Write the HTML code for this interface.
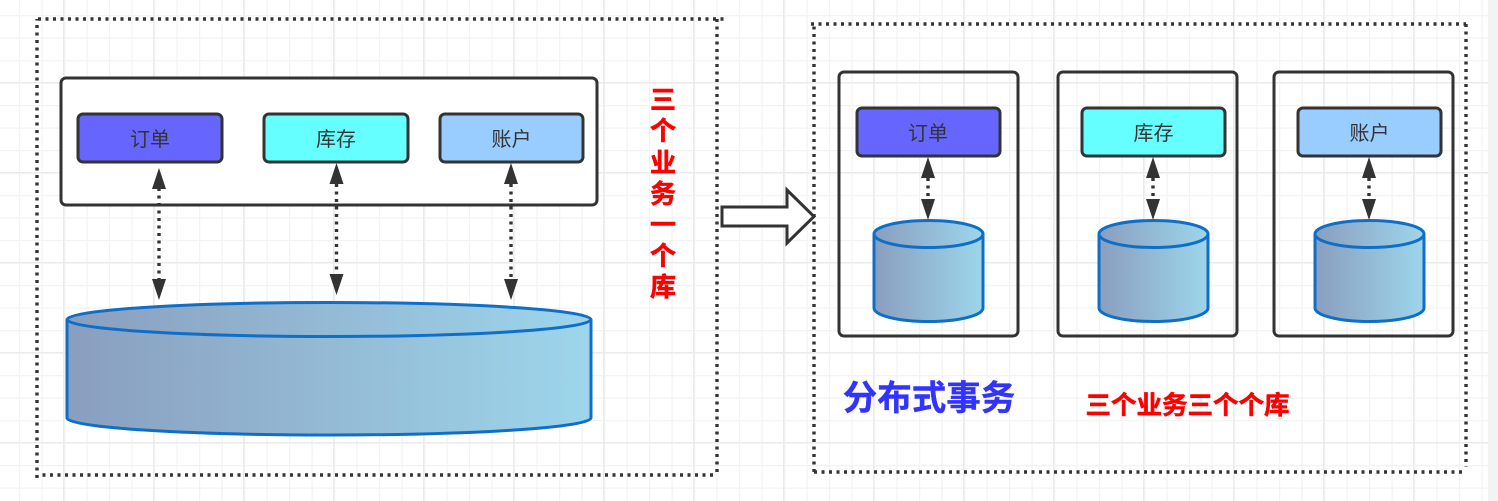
<!DOCTYPE html>
<html><head><meta charset="utf-8">
<style>
html,body{margin:0;padding:0;background:#fff;width:1498px;height:501px;overflow:hidden}
svg{display:block}
text{font-family:"Liberation Sans","Noto Sans CJK SC",sans-serif}
</style></head><body>
<svg width="1498" height="501" viewBox="0 0 1498 501" xmlns="http://www.w3.org/2000/svg">
<defs>
<linearGradient id="g" x1="0" y1="0" x2="1" y2="0"><stop offset="0" stop-color="#8a9ebf"/><stop offset="1" stop-color="#9dd6ec"/></linearGradient>
<pattern id="minor" x="19" y="15" width="22.5" height="22.5" patternUnits="userSpaceOnUse"><path d="M0.5 0V22.5M0 0.5H22.5" stroke="#f3f3f3" stroke-width="1.5" fill="none"/></pattern>
<pattern id="major" x="63" y="82" width="90" height="90" patternUnits="userSpaceOnUse"><path d="M0.5 0V90M0 0.5H90" stroke="#ebebeb" stroke-width="1.5" fill="none"/></pattern>
</defs>
<rect width="1498" height="501" fill="#fff"/>
<rect width="1488" height="501" fill="url(#minor)"/>
<rect width="1488" height="501" fill="url(#major)"/>
<rect x="1488" width="10" height="501" fill="#f3f3f3"/>

<g fill="none" stroke="#333" stroke-width="3.4" stroke-dasharray="3 4.5">
<path d="M38 19H724"/>
<path d="M717 19V476"/>
<path d="M713 475H38"/>
<path d="M37 478V19"/>
<path d="M811 24H1466"/>
<path d="M1466 24V467"/>
<path d="M1462 472H814"/>
<path d="M814 472V24"/>
</g>

<rect x="61" y="78" width="536" height="127" rx="5" fill="#fff" stroke="#333" stroke-width="3"/>
<rect x="78" y="114" width="144" height="48" rx="5" fill="#6666ff" stroke="#333" stroke-width="3"/>
<rect x="264" y="114" width="144" height="48" rx="5" fill="#66ffff" stroke="#333" stroke-width="3"/>
<rect x="440" y="114" width="143" height="48" rx="5" fill="#99ccff" stroke="#333" stroke-width="3"/>
<g font-size="20" fill="#333" text-anchor="middle">
<text x="150" y="146">订单</text><text x="336" y="146">库存</text><text x="511.500" y="146">账户</text>
</g>

<g stroke="#333" stroke-width="3.4" stroke-dasharray="3 4.500" fill="none">
<path d="M159 188V280"/><path d="M336.500 184V276"/><path d="M511 184V280"/>
<path d="M928 178V200"/><path d="M1153 178V200"/><path d="M1369 178V200"/>
</g>
<g fill="#333">
<path d="M159 168l-7 21h14z"/><path d="M159 300l-7 -21h14z"/>
<path d="M336.500 163l-7 21h14z"/><path d="M336.500 295l-7 -21h14z"/>
<path d="M511 163l-7 21h14z"/><path d="M511 300l-7 -21h14z"/>
<path d="M928 157l-7 21h14z"/><path d="M928 220l-7 -21h14z"/>
<path d="M1153 157l-7 21h14z"/><path d="M1153 220l-7 -21h14z"/>
<path d="M1369 157l-7 21h14z"/><path d="M1369 220l-7 -21h14z"/>
</g>

<path d="M722 207H787V190L814 216.500L787 243V226H722Z" fill="#fff" stroke="#333" stroke-width="3"/>

<g fill="none" stroke="#333" stroke-width="3">
<rect x="839" y="72" width="179" height="264" rx="5"/>
<rect x="1058" y="72" width="179" height="264" rx="5"/>
<rect x="1274" y="72" width="179" height="264" rx="5"/>
</g>

<g fill="url(#g)" stroke="#0f6fc6" stroke-width="3">
<path d="M67 319.500A262 17 0 0 1 591 319.500V418A262 17 0 0 1 67 418Z"/>
<path d="M67 319.500A262 17 0 0 0 591 319.500" fill="none"/>
<path d="M874 234A54.500 13.500 0 0 1 983 234V308A54.500 13.500 0 0 1 874 308Z"/>
<path d="M874 234A54.500 13.500 0 0 0 983 234" fill="none"/>
<path d="M1099 234A54.500 13.500 0 0 1 1208 234V308A54.500 13.500 0 0 1 1099 308Z"/>
<path d="M1099 234A54.500 13.500 0 0 0 1208 234" fill="none"/>
<path d="M1315 234A54.500 13.500 0 0 1 1424 234V308A54.500 13.500 0 0 1 1315 308Z"/>
<path d="M1315 234A54.500 13.500 0 0 0 1424 234" fill="none"/>
</g>

<rect x="857" y="108" width="143" height="48" rx="5" fill="#6666ff" stroke="#333" stroke-width="3"/>
<rect x="1082" y="108" width="143" height="48" rx="5" fill="#66ffff" stroke="#333" stroke-width="3"/>
<rect x="1298" y="108" width="143" height="48" rx="5" fill="#99ccff" stroke="#333" stroke-width="3"/>
<g font-size="20" fill="#333" text-anchor="middle">
<text x="928" y="140">订单</text><text x="1153.500" y="140">库存</text><text x="1369.500" y="140">账户</text>
</g>

<g font-size="26" font-weight="700" fill="#ff0000" stroke="#ff0000" stroke-width="0.6" text-anchor="middle">
<text x="663" y="109">三</text><text x="663" y="140">个</text><text x="663" y="172">业</text><text x="663" y="203">务</text><text x="663" y="234">一</text><text x="663" y="265">个</text><text x="663" y="296">库</text>
<text x="1187.500" y="414" font-size="25.500">三个业务三个个库</text>
</g>
<text x="929" y="410" font-size="34.500" font-weight="700" fill="#3333ff" stroke="#3333ff" stroke-width="0.4" text-anchor="middle">分布式事务</text>
</svg>
</body></html>
